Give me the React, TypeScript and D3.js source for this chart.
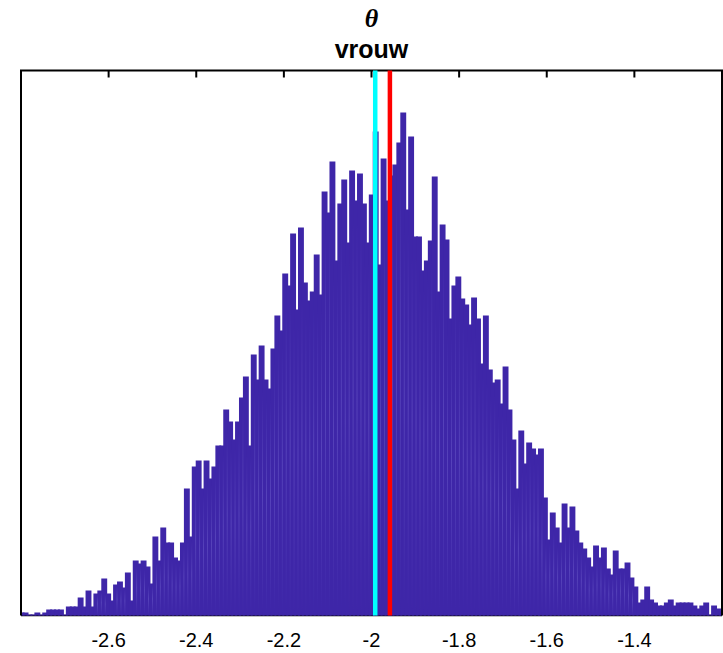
import React from "react";
import * as d3 from "d3";

// ---- data ----
const xDomain: [number, number] = [-2.8, -1.2];
const xTicks = [-2.6, -2.4, -2.2, -2, -1.8, -1.6, -1.4];
const xTickLabels = ["-2.6", "-2.4", "-2.2", "-2", "-1.8", "-1.6", "-1.4"];
const binStart = -2.7986; // centre of first bin
const binWidth = 0.00898;
const counts = [
  3, 3, 1, 1, 3, 1, 3, 6, 6, 6,
  6, 1, 9, 9, 9, 18, 9, 25, 9, 22,
  25, 37, 22, 15, 31, 34, 28, 43, 15, 55,
  52, 55, 49, 32, 79, 55, 88, 73, 73, 58,
  55, 73, 127, 79, 149, 155, 127, 155, 137, 149,
  170, 170, 206, 194, 176, 194, 218, 239, 170, 261,
  236, 270, 236, 227, 267, 300, 285, 342, 330, 382,
  306, 388, 333, 315, 324, 361, 321, 424, 403, 454,
  355, 412, 436, 373, 445, 415, 442, 412, 373, 421,
  484, 351, 457, 415, 440, 451, 473, 503, 406, 479,
  379, 379, 345, 355, 375, 439, 324, 391, 376, 297,
  330, 339, 317, 311, 291, 318, 297, 252, 300, 246,
  233, 236, 212, 249, 206, 176, 127, 185, 152, 173,
  167, 161, 167, 118, 76, 103, 88, 73, 112, 88,
  109, 85, 73, 67, 58, 49, 70, 58, 68, 47,
  41, 65, 47, 47, 53, 38, 29, 13, 16, 29,
  16, 13, 10, 10, 13, 16, 10, 13, 13, 13,
  13, 10, 7, 10, 13, 1, 10, 7, 4,
];
const yMax = 545;
const cyanValue = -1.9915;
const redValue = -1.958;
const titleSymbol = "θ";
const titleText = "vrouw";

export default function App() {
  const W = 723;
  const H = 653;
  const left = 21;
  const right = 722;
  const top = 70.5;
  const bottom = 615.5;

  const x = d3.scaleLinear().domain(xDomain).range([left, right]);
  const y = d3.scaleLinear().domain([0, yMax]).range([bottom, top]);
  const bw = x(binStart + binWidth) - x(binStart);
  const barW = bw * 1.5;

  const bins = counts.map((c, i) => ({ c, center: binStart + i * binWidth }));

  return (
    <svg
      width={W}
      height={H}
      style={{ position: "absolute", left: 0, top: 0, display: "block", background: "#ffffff" }}
    >
      <defs>
        <clipPath id="plotClip">
          <rect x={left} y={top - 1} width={right - left} height={bottom - top + 2} />
        </clipPath>
        <linearGradient id="seam" x1="0" y1="0" x2="0" y2="1">
          <stop offset="0" stopColor="#8a7fe0" stopOpacity="0" />
          <stop offset="0.45" stopColor="#8a7fe0" stopOpacity="0.4" />
          <stop offset="1" stopColor="#8a7fe0" stopOpacity="0" />
        </linearGradient>
      </defs>

      {/* axes (drawn beneath the bars) */}
      <line x1={left} x2={right} y1={bottom} y2={bottom} stroke="#000" strokeWidth={1.5} />
      <g clipPath="url(#plotClip)">
        {bins.map((b, i) => (
          <rect
            key={i}
            x={x(b.center) - barW / 2}
            y={y(b.c)}
            width={barW}
            height={bottom - y(b.c)}
            fill="#3e26a8"
          />
        ))}
        {bins.map((b, i) => {
          if (i === 0) return null;
          const h = Math.min(b.c, bins[i - 1].c);
          if (h < 20) return null;
          const yt = y(h * 0.95);
          return (
            <rect
              key={"s" + i}
              x={x(b.center) - barW / 2 - 0.4}
              y={yt}
              width={0.8}
              height={bottom - yt}
              fill="url(#seam)"
            />
          );
        })}
      </g>

      {/* box */}
      <line x1={left - 1} x2={right + 1} y1={top} y2={top} stroke="#000" strokeWidth={2} />
      <line x1={left} x2={left} y1={top} y2={bottom} stroke="#000" strokeWidth={2} />
      <line x1={right} x2={right} y1={top} y2={bottom} stroke="#000" strokeWidth={2} />
      {xTicks.map((t) => (
        <line key={"t" + t} x1={x(t)} x2={x(t)} y1={top} y2={top + 7} stroke="#000" strokeWidth={2} />
      ))}

      {/* reference lines */}
      <line x1={x(cyanValue)} x2={x(cyanValue)} y1={top} y2={bottom} stroke="#00ffff" strokeWidth={4.5} />
      <line x1={x(redValue)} x2={x(redValue)} y1={top} y2={bottom} stroke="#ff0000" strokeWidth={4.5} />

      {/* tick labels */}
      {xTicks.map((t, i) => (
        <text
          key={"l" + t}
          x={x(t)}
          y={646.5}
          textAnchor="middle"
          fontFamily="'Liberation Sans', Arial, sans-serif"
          fontSize={20}
          fill="#000"
        >
          {xTickLabels[i]}
        </text>
      ))}

      {/* titles */}
      <text
        x={(left + right) / 2}
        y={27}
        textAnchor="middle"
        fontFamily="'Liberation Serif', 'Times New Roman', serif"
        fontStyle="italic"
        fontWeight="bold"
        fontSize={26}
        fill="#000"
      >
        {titleSymbol}
      </text>
      <text
        x={(left + right) / 2}
        y={58}
        textAnchor="middle"
        fontFamily="'Liberation Sans', Arial, sans-serif"
        fontWeight="bold"
        fontSize={25}
        fill="#000"
      >
        {titleText}
      </text>
    </svg>
  );
}
